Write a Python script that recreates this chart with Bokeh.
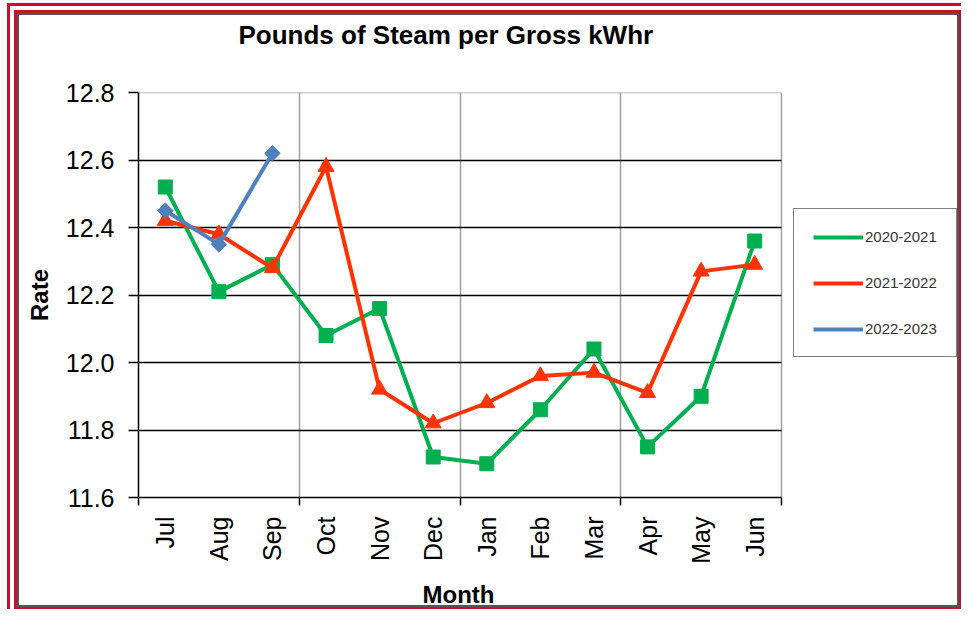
import math
from bokeh.plotting import figure
from bokeh.models import (Range1d, FixedTicker, Legend, LegendItem, Grid,
                          PrintfTickFormatter, Title)
from bokeh.embed import file_html
from bokeh.resources import INLINE

# ---- data ----
months = ["Jul", "Aug", "Sep", "Oct", "Nov", "Dec", "Jan", "Feb", "Mar", "Apr", "May", "Jun"]
s2020_2021 = [12.52, 12.21, 12.29, 12.08, 12.16, 11.72, 11.70, 11.86, 12.04, 11.75, 11.90, 12.36]
s2021_2022 = [12.42, 12.38, 12.28, 12.58, 11.92, 11.82, 11.88, 11.96, 11.97, 11.91, 12.27, 12.29]
s2022_2023 = [12.45, 12.35, 12.62]
y_ticks = [11.6, 11.8, 12.0, 12.2, 12.4, 12.6, 12.8]
quarter_bounds = [0, 3, 6, 9, 12]
series_names = ["2020-2021", "2021-2022", "2022-2023"]
title_text = "Pounds of Steam per Gross kWhr"
x_title = "Month"
y_title = "Rate"

GREEN = "#00B050"
RED = "#FF3300"
BLUE = "#4F81BD"
FONT = "Liberation Sans"

# layout (pixels)
W, H = 961, 609
PLOT_L, PLOT_R, PLOT_T, PLOT_B = 138, 781, 92, 498

n = len(months)
xpos = [i + 0.5 for i in range(n)]
# the frame runs to the right edge so that the legend can sit beside the plot area
x_end = n * (W - PLOT_L) / (PLOT_R - PLOT_L)

p = figure(width=W, height=H, output_backend="svg", toolbar_location=None,
           x_range=Range1d(0, x_end), y_range=Range1d(y_ticks[0], y_ticks[-1] + 1e-6),
           min_border_left=PLOT_L, min_border_right=0, min_border_top=PLOT_T,
           min_border_bottom=H - PLOT_B,
           background_fill_alpha=0, border_fill_alpha=0)


def band(side, px, color):
    off = {"top": (0, px), "bottom": (0, -px), "left": (px, 0), "right": (-px, 0)}[side]
    return f"inset {off[0]}px {off[1]}px 0 0 {color}"


RED_F = "#C8102E"
shadows = [band("top", 3, "#FFFFFF"), band("left", 7, "#FFFFFF"),
           band("top", 6, RED_F), band("left", 10, RED_F),
           band("top", 10, "#FFFFFF"), band("left", 14, "#FFFFFF"),
           band("top", 13, RED_F), band("left", 17, RED_F),
           band("right", 2, RED_F), band("bottom", 2, RED_F),
           band("top", 15, "#555555"), band("left", 19, "#555555"),
           band("right", 4, "#555555"), band("bottom", 4, "#555555")]
p.styles = {"box-shadow": ", ".join(shadows), "background-color": "white"}

p.outline_line_color = None

# title (trailing empty line lifts it higher above the plot area)
p.title = Title(text=title_text + "\n", align="left", offset=100, standoff=25,
                vertical_align="bottom",
                text_font=FONT, text_font_size="26px", text_font_style="bold", text_color="black")

# x axis
xa = p.xaxis[0]
xa.bounds = (quarter_bounds[0], quarter_bounds[-1])
xa.ticker = FixedTicker(ticks=xpos, minor_ticks=quarter_bounds)
xa.major_label_overrides = {x: m for x, m in zip(xpos, months)}
xa.major_label_orientation = math.pi / 2
xa.major_tick_out = 0
xa.major_tick_in = 0
xa.minor_tick_out = 8
xa.minor_tick_in = 0
xa.minor_tick_line_color = "black"
xa.minor_tick_line_width = 1.5
xa.axis_line_color = "black"
xa.axis_line_width = 1.5
xa.major_label_standoff = 11
xa.major_label_text_font = FONT
xa.major_label_text_font_size = "25px"
xa.major_label_text_color = "black"
# blank spacer label: keeps room between the month names and the axis title
xa.axis_label = " "
xa.axis_label_text_font_size = "1px"
xa.axis_label_standoff = 10

# x axis title, centred under the plot area (not under the wider frame)
p.add_layout(Title(text=x_title, align="left", offset=284, standoff=0, vertical_align="top",
                   text_font=FONT, text_font_size="24px", text_font_style="bold",
                   text_color="black"), "below")

# y axis
ya = p.yaxis[0]
ya.bounds = (y_ticks[0], y_ticks[-1])
ya.ticker = FixedTicker(ticks=y_ticks)
ya.formatter = PrintfTickFormatter(format="%.1f")
ya.major_tick_out = 10
ya.major_tick_in = 0
ya.major_tick_line_color = "black"
ya.major_tick_line_width = 1.5
ya.minor_tick_line_color = None
ya.axis_line_color = "black"
ya.axis_line_width = 1.5
ya.major_label_standoff = 14
ya.major_label_text_font = FONT
ya.major_label_text_font_size = "25px"
ya.major_label_text_color = "black"
ya.axis_label = y_title
ya.axis_label_text_font = FONT
ya.axis_label_text_font_size = "24px"
ya.axis_label_text_font_style = "bold"
ya.axis_label_text_color = "black"
ya.axis_label_standoff = 10

# grids
p.xgrid.ticker = FixedTicker(ticks=quarter_bounds[1:])
p.xgrid.grid_line_color = "#A0A0A0"
p.xgrid.grid_line_width = 1.5
p.ygrid.ticker = FixedTicker(ticks=y_ticks[1:-1])
p.ygrid.grid_line_color = "black"
p.ygrid.grid_line_width = 1.5
top_grid = Grid(dimension=1, ticker=FixedTicker(ticks=[y_ticks[-1]]),
                grid_line_color="#A0A0A0", grid_line_width=1.5)
p.add_layout(top_grid)
try:
    p.ygrid.cross_bounds = (quarter_bounds[0], quarter_bounds[-1])
    top_grid.cross_bounds = (quarter_bounds[0], quarter_bounds[-1])
except AttributeError:
    p.ygrid.grid_line_color = None
    top_grid.grid_line_color = None
    p.segment(x0=[quarter_bounds[0]] * (len(y_ticks) - 2), x1=[quarter_bounds[-1]] * (len(y_ticks) - 2),
              y0=y_ticks[1:-1], y1=y_ticks[1:-1], line_color="black", line_width=1.5)
    p.segment(x0=[quarter_bounds[0]], x1=[quarter_bounds[-1]], y0=[y_ticks[-1]], y1=[y_ticks[-1]],
              line_color="#A0A0A0", line_width=1.5)

# series
lg = p.line(xpos, s2020_2021, line_color=GREEN, line_width=4)
p.scatter(xpos, s2020_2021, marker="square", size=14, fill_color=GREEN, line_color=GREEN)
lr = p.line(xpos, s2021_2022, line_color=RED, line_width=4)
p.scatter(xpos, s2021_2022, marker="triangle", size=16, fill_color=RED, line_color=RED)
lb = p.line(xpos[:len(s2022_2023)], s2022_2023, line_color=BLUE, line_width=4)
p.scatter(xpos[:len(s2022_2023)], s2022_2023, marker="square", angle=0.785398, size=11,
          fill_color=BLUE, line_color=BLUE)

legend = Legend(items=[LegendItem(label=series_names[0], renderers=[lg]),
                       LegendItem(label=series_names[1], renderers=[lr]),
                       LegendItem(label=series_names[2], renderers=[lb])],
                location=(655, 140), orientation="vertical",
                glyph_width=50, glyph_height=16, label_height=16, label_standoff=2,
                spacing=29, padding=19, margin=0,
                label_text_font=FONT, label_text_font_size="15px", label_text_color="#333333",
                border_line_color="black", border_line_width=1.5,
                background_fill_color="white", background_fill_alpha=1.0)
p.add_layout(legend, "center")

open("out.html", "w").write(file_html(p, INLINE))
